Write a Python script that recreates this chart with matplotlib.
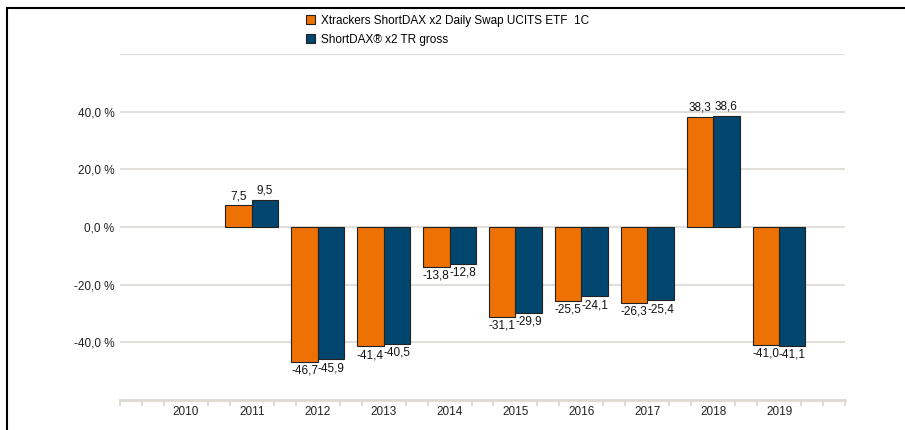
import numpy as np
import matplotlib.pyplot as plt
from matplotlib.lines import Line2D
from matplotlib.patches import Patch

plt.rcParams['font.family'] = ['Liberation Sans', 'DejaVu Sans']

years = [2010, 2011, 2012, 2013, 2014, 2015, 2016, 2017, 2018, 2019]
etf = [np.nan, 7.5, -46.7, -41.4, -13.8, -31.1, -25.5, -26.3, 38.3, -41.0]
index = [np.nan, 9.5, -45.9, -40.5, -12.8, -29.9, -24.1, -25.4, 38.6, -41.1]
series_names = ["Xtrackers ShortDAX x2 Daily Swap UCITS ETF  1C", "ShortDAX\u00ae x2 TR gross"]
y_ticks = [-40, -20, 0, 20, 40]

ORANGE = '#ee7203'
BLUE = '#00466e'
GRID = '#e2dfda'


def fmt(v):
    return f"{v:.1f}".replace('.', ',')


fig = plt.figure(figsize=(9.05, 4.3), dpi=100)
ax = fig.add_axes([120 / 905, 1 - 400 / 430, 725 / 905, 346 / 430])

x = np.array(years, dtype=float)
w = 0.4
ax.bar(x - w / 2, etf, w, color=ORANGE, edgecolor='#222222', linewidth=0.8, zorder=3)
ax.bar(x + w / 2, index, w, color=BLUE, edgecolor='#222222', linewidth=0.8, zorder=3)

for xs, vals in [(x - w / 2, etf), (x + w / 2, index)]:
    for xi, v in zip(xs, vals):
        if np.isnan(v):
            continue
        if v >= 0:
            ax.annotate(fmt(v), (xi, v), xytext=(0, 2), textcoords='offset points',
                        ha='center', va='bottom', fontsize=8.5, color='#111111')
        else:
            ax.annotate(fmt(v), (xi, v), xytext=(0, -2), textcoords='offset points',
                        ha='center', va='top', fontsize=8.5, color='#111111')

ax.set_xlim(2009, 2020)
ax.set_ylim(-60, 60)

# gridlines
for g in [60, 40, 20, 0, -20, -40]:
    ax.axhline(g, color=GRID, linewidth=1.5, zorder=1)

ax.set_yticks(y_ticks)
ax.set_yticklabels([fmt(t) + ' %' for t in y_ticks], fontsize=8.5, color='#222222')
ax.tick_params(axis='y', length=0, pad=4)

ax.set_xticks(years)
ax.set_xticklabels([str(y) for y in years], fontsize=8.5, color='#222222')
minor = [y + k / 3 for y in range(2009, 2020) for k in range(3) if y + k / 3 not in years]
minor.append(2020)
ax.set_xticks(minor, minor=True)
ax.tick_params(axis='x', which='major', length=0, pad=4)
ax.tick_params(axis='x', which='minor', length=4, color='#d8d4cc', width=1.2)

for s in ['top', 'right', 'left']:
    ax.spines[s].set_visible(False)
ax.spines['bottom'].set_color('#ddd9d2')
ax.spines['bottom'].set_linewidth(2)

handles = [Patch(facecolor=ORANGE, edgecolor='#222222', linewidth=0.8),
           Patch(facecolor=BLUE, edgecolor='#222222', linewidth=0.8)]
fig.legend(handles, series_names, loc='upper left', bbox_to_anchor=(295 / 905, 1 - 4 / 430),
           frameon=False, fontsize=8.5, handlelength=0.8, handleheight=0.8,
           handletextpad=0.5, labelspacing=0.6)

# page border lines
fig.add_artist(Line2D([7 / 905, 1], [1 - 8 / 430, 1 - 8 / 430], color='black', linewidth=1.5))
fig.add_artist(Line2D([7 / 905, 7 / 905], [0, 1 - 8 / 430], color='black', linewidth=1.5))

fig.savefig('out.png', dpi=100)
